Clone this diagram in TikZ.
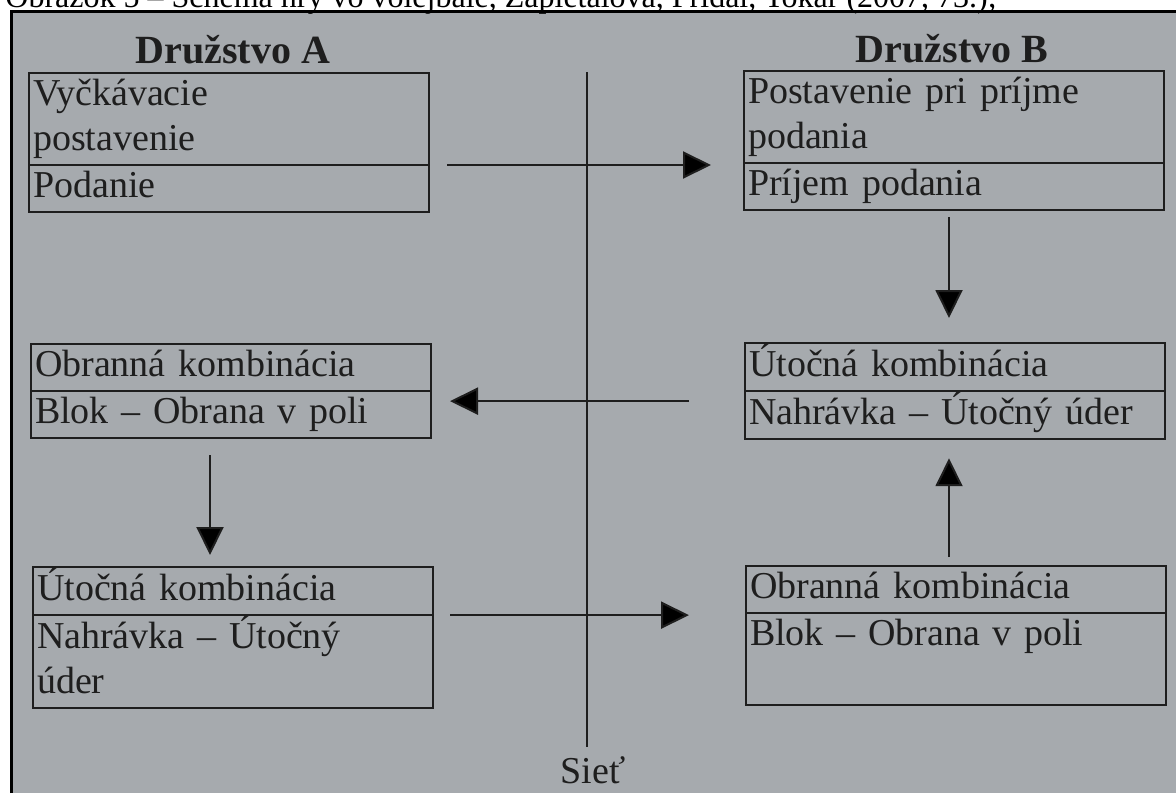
\documentclass[tikz,border=0pt]{standalone}
\usepackage{fontspec}
\setmainfont{Liberation Serif}
\usepackage{xcolor}
\usetikzlibrary{shapes.multipart, arrows.meta}

\definecolor{paper}{RGB}{166,170,174}
\definecolor{ink}{RGB}{30,30,30}
\newcommand{\boxfont}{\fontsize{19}{22.5}\selectfont}

\begin{document}
\begin{tikzpicture} [x=0.5pt, y=-0.5pt,
  teambox/.style={draw=ink, line width=1pt, rectangle split, rectangle split parts=2,
    anchor=north west, inner xsep=2pt, inner ysep=0pt, outer sep=0pt,
    align=left, font=\boxfont, text=ink},
  boxA/.style={teambox, text width=196pt},
  boxB/.style={teambox, text width=206pt},
  heading/.style={anchor=base, font=\fontsize{20}{24}\selectfont\bfseries, text=ink},
  flow/.style={draw=ink, line width=1pt, -{Triangle[length=14pt, width=13.5pt]}}]

% the page
\useasboundingbox (0,0) rectangle (1176,793);
\clip (0,0) rectangle (1176,793);
\fill [white] (0,0) rectangle (1176,793);
\fill [paper] (11,11) rectangle (1176,793);
\draw [black, line width=1.5pt] (11,793) -- (11,11) -- (1176,11);
\node [anchor=base west, inner sep=0pt, font=\fontsize{16}{19}\selectfont] (caption) at (5,7)
  {Obrázok 5 – Schéma hry vo volejbale, Zapletalová, Přidal, Tokár (2007, 73.);};

% the teams
\node [heading] (teamA) at (233,63) {Družstvo A};
\node [heading] (teamB) at (952,62) {Družstvo B};

% team A
\node [boxA] (a1) at (29,73) {\strut Vyčkávacie\\ postavenie\strut \nodepart{two} \strut Podanie\strut};
\node [boxA] (a2) at (31,344) {\strut Obranná kombinácia\strut \nodepart{two} \strut Blok – Obrana v poli\strut};
\node [boxA] (a3) at (33,567) {\strut Útočná kombinácia\strut \nodepart{two} \strut Nahrávka – Útočný\\ úder\strut};

% team B
\node [boxB] (b1) at (744,71) {\strut Postavenie pri príjme\\ podania\strut \nodepart{two} \strut Príjem podania\strut};
\node [boxB] (b2) at (745,343) {\strut Útočná kombinácia\strut \nodepart{two} \strut Nahrávka – Útočný úder\strut};
\node [boxB] (b3) at (746,566) {\strut Obranná kombinácia\strut \nodepart{two} \strut Blok – Obrana v poli\\ \strut};

% the net
\coordinate (nettop) at (587,72);
\coordinate (netend) at (587,747);
\draw [ink, line width=0.9pt] (nettop) -- (netend);
\node [anchor=base, font=\boxfont, text=ink] (net) at (593,783) {Sieť};

% the rally
\coordinate (rally) at ([yshift=-5pt]b2.text split west);
\coordinate (acol) at ([xshift=-10.5pt]a2.south);
\coordinate (bcol) at ([xshift=-2.5pt]b1.south);
\draw [flow, shorten <=9pt, shorten >=16.5pt] (a1.text split east) -- (a1.text split east -| b1.west);
\draw [flow, shorten <=3.5pt, shorten >=12.5pt] (bcol) -- (bcol |- b2.north);
\draw [flow, shorten <=28pt, shorten >=9.5pt] (rally) -- (rally -| a2.east);
\draw [flow, shorten <=8.5pt, shorten >=6pt] (acol) -- (acol |- a3.north);
\draw [flow, shorten <=8.5pt, shorten >=28.5pt] (a3.text split east) -- (a3.text split east -| b3.west);
\draw [flow, shorten <=4.5pt, shorten >=9.5pt] (bcol |- b3.north) -- (bcol |- b2.south);

\end{tikzpicture}
\end{document}
